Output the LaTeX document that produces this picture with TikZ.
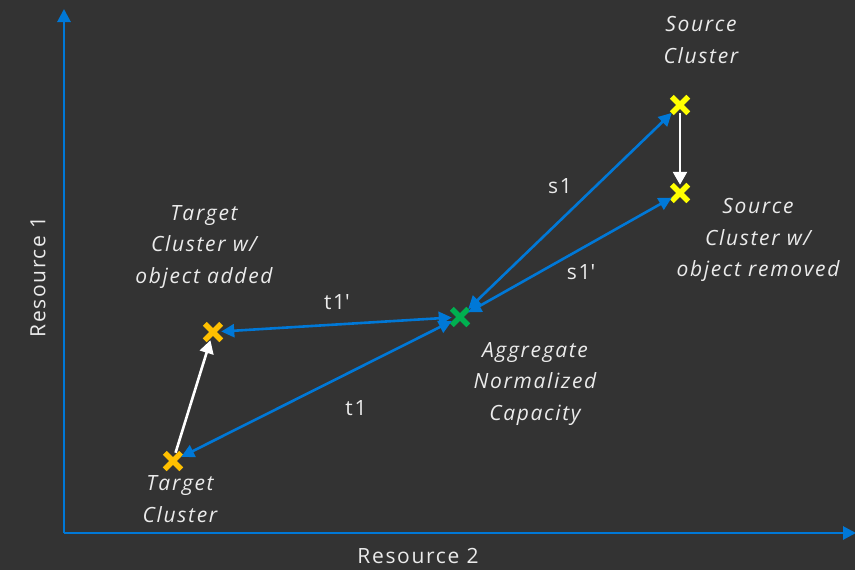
\documentclass[tikz,border=0pt]{standalone}
\usepackage{fontspec}
\setmainfont{Open Sans}[LetterSpace=8]
\usetikzlibrary{arrows.meta,shapes.misc}
\begin{document}
\begin{tikzpicture}[x=1pt,y=1pt]
%Define all colors here.
\definecolor{bgfill}{RGB}{51,51,51}
\definecolor{axisblue}{RGB}{0,120,215}
\definecolor{labeltext}{RGB}{235,235,235}
\definecolor{srcyellow}{RGB}{255,255,0}
\definecolor{tgtorange}{RGB}{255,192,0}
\definecolor{agggreen}{RGB}{0,176,80}
\tikzset{
  xcross/.style={cross out, draw=#1, line width=5.5pt, inner sep=0pt, minimum size=11pt},
  bluearrow/.style={draw=axisblue, line width=2.6pt, {Triangle[length=13pt,width=13pt]}-{Triangle[length=13pt,width=13pt]}},
  axisarrow/.style={draw=axisblue, line width=2.8pt, -{Triangle[length=13pt,width=13pt]}},
  whitearrow/.style={draw=white, line width=2.6pt, -{Triangle[length=13pt,width=14pt]}},
  label/.style={text=labeltext, font=\fontsize{21}{31.5}\selectfont\itshape, align=center},
  plain/.style={text=labeltext, font=\fontsize{21}{31.5}\selectfont}
}
\fill[bgfill] (0,0) rectangle (855,-570);
\useasboundingbox (0,0) rectangle (855,-570);

%Axes.
\coordinate (origin) at (64,-533);
\coordinate (ytop) at (64,-9);
\coordinate (xend) at (856,-533);
\draw[axisarrow] (origin) -- (ytop);
\draw[axisarrow] (origin) -- (xend);
\node(res1) at (38,-277) [plain, rotate=90] {Resource 1};
\node(res2) at (418,-556) [plain] {Resource 2};

%Markers.
\node(src) at (680,-105) [xcross=srcyellow] {};
\node(srcrem) at (680,-193) [xcross=srcyellow] {};
\node(agg) at (460,-317) [xcross=agggreen] {};
\node(tgtadd) at (213,-332) [xcross=tgtorange] {};
\node(tgt) at (173,-461) [xcross=tgtorange] {};

%Arrows.
\draw[bluearrow] (agg) -- (src);
\draw[bluearrow] (agg) -- (srcrem);
\draw[bluearrow] (agg) -- (tgtadd);
\draw[bluearrow] (agg) -- (tgt);
\draw[whitearrow] (src) -- (srcrem);
\draw[whitearrow] (tgt) -- (tgtadd);

%Labels.
\node(srclbl) at (701,-40) [label] {Source\\Cluster};
\node(remlbl) at (758,-240) [label] {Source\\Cluster w/\\object removed};
\node(addlbl) at (204,-247) [label] {Target\\Cluster w/\\object added};
\node(agglbl) at (535,-384) [label] {Aggregate\\Normalized\\Capacity};
\node(tgtlbl) at (180,-499) [label] {Target\\Cluster};
\node(s1) at (560,-186) [plain] {s1};
\node(s1p) at (581,-272) [plain] {s1\textquotesingle};
\node(t1p) at (337,-302) [plain] {t1\textquotesingle};
\node(t1) at (356,-408) [plain] {t1};
\end{tikzpicture}
\end{document}
